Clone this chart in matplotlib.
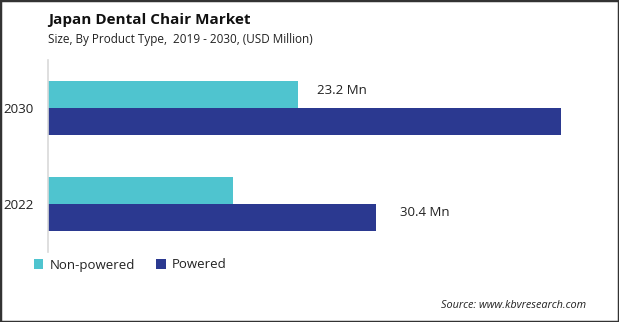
import matplotlib
matplotlib.use("Agg")
import matplotlib.pyplot as plt
from matplotlib.patches import Rectangle

categories = ["2022", "2030"]
series_names = ["Non-powered", "Powered"]
non_powered = [17.1, 23.2]
powered = [30.4, 47.5]
labels = {("Powered", 0): "30.4 Mn", ("Non-powered", 1): "23.2 Mn"}

c_np = "#4FC4CF"
c_p = "#2B3990"

W, H = 619, 322
fig = plt.figure(figsize=(W / 100, H / 100), dpi=100)
plt.rcParams['font.family'] = ['Open Sans', 'DejaVu Sans']

# axes: left x=48, bottom y=252, top y=60, right ~600
ax = fig.add_axes([48 / W, 1 - 252 / H, (600 - 48) / W, (252 - 60) / H])
bh = 0.28
y = list(range(len(categories)))
ax.barh([v + bh / 2 for v in y], non_powered, height=bh, color=c_np, label=series_names[0])
ax.barh([v - bh / 2 for v in y], powered, height=bh, color=c_p, label=series_names[1])
ax.set_ylim(-0.5, 1.5)
ax.set_xlim(0, (600 - 48) / 10.79)
ax.set_yticks(y)
ax.set_yticklabels(categories, fontsize=9.6, color="#222222")
ax.tick_params(axis='y', length=0, pad=10.5)
ax.set_xticks([])
for s in ["top", "right", "bottom"]:
    ax.spines[s].set_visible(False)
ax.spines["left"].set_color("#d9d9d9")
ax.spines["left"].set_linewidth(1.2)

# value labels
ax.text(non_powered[1] + 1.7, 1 + bh / 2 + 0.04, labels[("Non-powered", 1)],
        va="center", ha="left", fontsize=9.5, color="#222222")
ax.text(powered[0] + 2.2, 0 - bh / 2 + 0.05, labels[("Powered", 0)],
        va="center", ha="left", fontsize=9.5, color="#222222")

# title
fig.text(48 / W, 1 - 20 / H, "Japan Dental Chair Market", fontsize=11,
         fontweight="bold", ha="left", va="center", color="#111111")
fig.text(48 / W, 1 - 39 / H, "Size, By Product Type,  2019 - 2030, (USD Million)",
         fontsize=8.5, ha="left", va="center", color="#222222")

# legend
leg = fig.legend(loc="center left", bbox_to_anchor=(34 / W, 1 - 265 / H), ncol=2,
                 frameon=False, fontsize=9.5, handlelength=0.7, handleheight=0.7,
                 handletextpad=0.5, columnspacing=1.6, borderaxespad=0, borderpad=0)
for t in leg.get_texts():
    t.set_color("#222222")

fig.text(586 / W, 1 - 306 / H, "Source: www.kbvresearch.com", fontsize=7.8,
         style="italic", ha="right", va="center", color="#222222")

fig.patches.append(Rectangle((0, 0), 1, 1, transform=fig.transFigure, fill=False,
                             edgecolor="#333333", linewidth=2.5))

fig.savefig("out.png", dpi=100)
